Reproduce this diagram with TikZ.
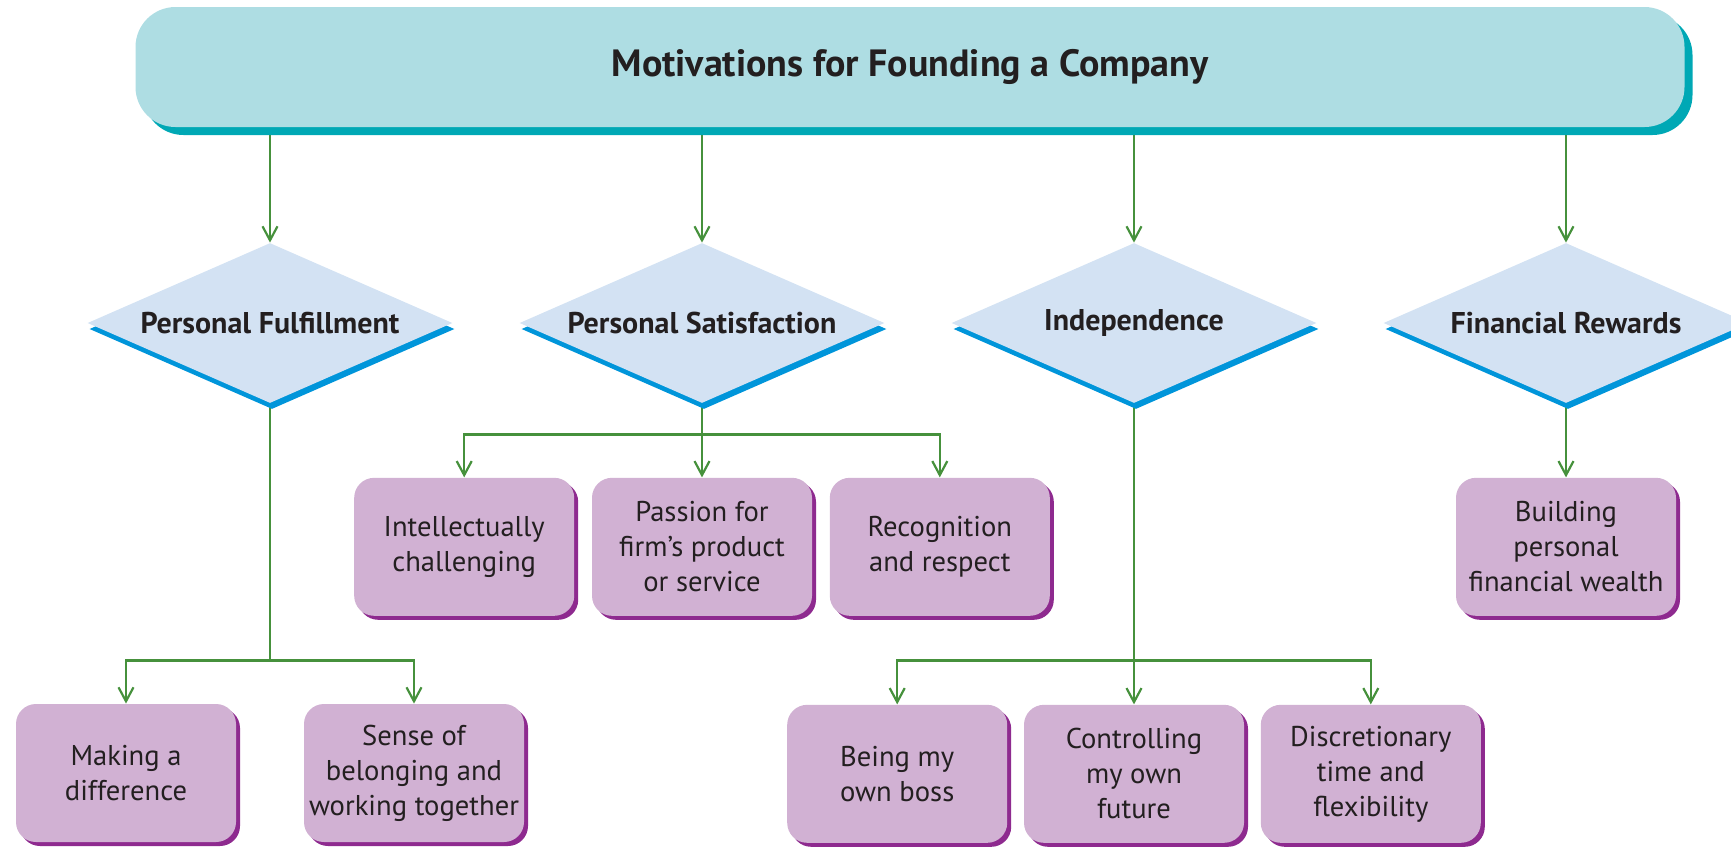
\documentclass[tikz,border=0pt]{standalone}
\usepackage{fontspec}
\setmainfont{PT Sans}
\usetikzlibrary{arrows.meta,positioning,shapes.geometric,shadows,backgrounds}
\definecolor{bannerfill}{RGB}{174,221,227}
\definecolor{bannershade}{RGB}{0,168,181}
\definecolor{diamfill}{RGB}{211,226,243}
\definecolor{diamshade}{RGB}{0,149,218}
\definecolor{boxfill}{RGB}{209,177,211}
\definecolor{boxshade}{RGB}{142,42,143}
\definecolor{linkgreen}{RGB}{70,145,60}
\definecolor{inkdark}{RGB}{35,31,32}
\tikzset{
	banner/.style={rectangle,rounded corners=20pt,fill=bannerfill,
		minimum width=774.5pt,minimum height=60pt,
		drop shadow={shadow xshift=4pt,shadow yshift=-4pt,fill=bannershade,opacity=1},
		font=\fontsize{19}{22}\selectfont\bfseries,text=inkdark},
	motive/.style={diamond,aspect=2.28,inner sep=0pt,fill=diamfill,
		minimum width=182.5pt,minimum height=80pt,
		drop shadow={shadow xshift=1pt,shadow yshift=-3pt,fill=diamshade,opacity=1},
		font=\fontsize{15}{18}\selectfont\bfseries,text=inkdark},
	reason/.style={rectangle,rounded corners=10pt,fill=boxfill,align=center,
		minimum width=110pt,minimum height=69pt,inner sep=2pt,
		drop shadow={shadow xshift=2pt,shadow yshift=-2pt,fill=boxshade,opacity=1},
		font=\fontsize{14.3}{17.5}\selectfont,text=inkdark},
	trunk/.style={draw=linkgreen,line width=1.1pt},
	link/.style={trunk,-{Straight Barb[length=7pt,width=7.5pt]}}
}

\begin{document}
\begin{tikzpicture}[x=0.5pt,y=-0.5pt,node distance=37pt and 8.5pt]
  \useasboundingbox (0,0) rectangle (1731,848);
  \node[banner] (title) at (910,67) {Motivations for Founding a Company};
  \node[motive] (pf) at (270,323) {Personal Fulfillment};
  \node[motive] (ps) at (702,323) {Personal Satisfaction};
  \node[motive] (ind) at (1134,323) {Independence};
  \node[motive] (fin) at (1566,323) {Financial Rewards};
  \node[reason, below=of ps] (passion) {Passion for\\firm's product\\or service};
  \node[reason, left=of passion] (intel) {Intellectually\\challenging};
  \node[reason, right=of passion] (recog) {Recognition\\and respect};
  \node[reason, below=of fin] (wealth) {Building\\personal\\financial wealth};
  \node[reason] (making) at (126,773) {Making a\\difference};
  \node[reason] (sense) at (414,773) {Sense of\\belonging and\\working together};
  \node[reason, below=150.5pt of ind] (control) {Controlling\\my own\\future};
  \node[reason, left=8pt of control] (boss) {Being my\\own boss};
  \node[reason, right=8pt of control] (discr) {Discretionary\\time and\\flexibility};
  \coordinate (pfjoin) at ([yshift=-128.5pt]pf.south);
  \coordinate (psjoin) at ([yshift=-15.5pt]ps.south);
  \coordinate (indjoin) at ([yshift=-128.5pt]ind.south);
  \begin{pgfonlayer}{background}
    \foreach \m in {pf,ps,ind,fin}
      \draw[link] (title.south -| \m) -- (\m.north);
    \draw[trunk] (pf.south) -- (pfjoin);
    \draw[link] (pfjoin) -| (making.north);
    \draw[link] (pfjoin) -| (sense.north);
    \draw[link] (ps.south) -- (passion.north);
    \draw[link] (psjoin) -| (intel.north);
    \draw[link] (psjoin) -| (recog.north);
    \draw[link] (ind.south) -- (control.north);
    \draw[link] (indjoin) -| (boss.north);
    \draw[link] (indjoin) -| (discr.north);
    \draw[link] (fin.south) -- (wealth.north);
  \end{pgfonlayer}
\end{tikzpicture}
\end{document}
